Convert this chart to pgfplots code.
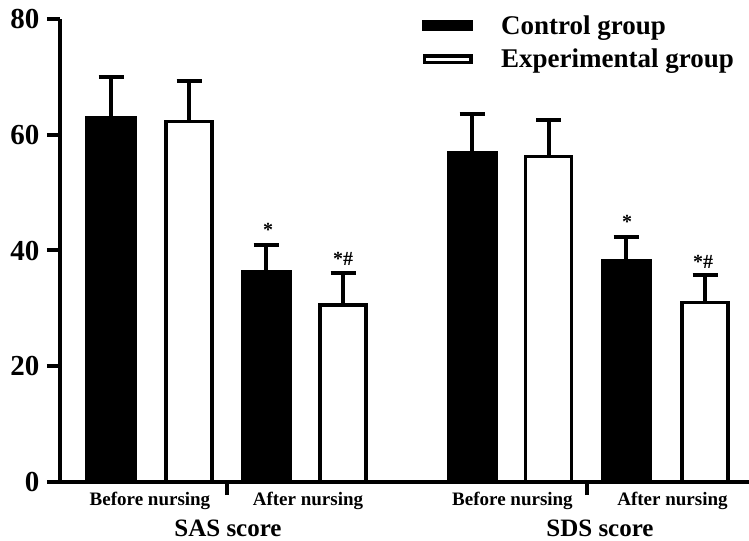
\documentclass[border=0pt]{standalone}
\usepackage{fontspec}
\setmainfont{Liberation Serif}
\usepackage{pgfplots}
\pgfplotsset{compat=1.18}
\begin{document}
\begin{tikzpicture}
\useasboundingbox (-60bp,-59bp) rectangle (689bp,482bp);
\begin{axis}[
  at={(0,0)}, anchor=south west,
  scale only axis, width=689bp, height=463bp,
  xmin=60, xmax=749, ymin=0, ymax=80,
  axis x line*=bottom, axis y line*=left,
  axis line style={line width=4bp, black},
  ytick={0,20,40,60,80},
  xtick={227,587}, xticklabels={},
  tick style={line width=4bp, black},
  major tick length=13bp,
  tick align=outside,
  yticklabel style={font=\fontsize{29bp}{30bp}\selectfont\bfseries, xshift=-4bp},
  /pgf/number format/assume math mode=true,
  clip=false,
  ybar,
  legend style={draw=none, fill=none, at={(axis cs:422,80.6)}, anchor=north west,
    font=\fontsize{27bp}{28bp}\selectfont\bfseries, inner sep=0pt,
    nodes={inner sep=0pt}, row sep=13bp,
    /tikz/every odd column/.append style={column sep=28bp}},
  legend cell align=left,
]
\addplot[ybar, bar shift=0pt, bar width=50, fill=black, draw=black, line width=1bp,
  legend image code/.code={\fill[black] (0bp,-5bp) rectangle (50bp,5bp);},
  error bars/.cd, y dir=plus, y explicit,
  error bar style={line width=4bp, black},
  error mark options={rotate=90, line width=4bp, mark size=12.5bp, black}]
  coordinates {(111,63.1) +- (0,6.9) (266,36.5) +- (0,4.5) (472,57.1) +- (0,6.5) (626,38.4) +- (0,4.0)};
\addlegendentry{Control group}
\addplot[ybar, bar shift=0pt, bar width=46, fill=white, draw=black, line width=3.5bp,
  legend image code/.code={\draw[black, line width=3.5bp, fill=white] (1.75bp,-3.25bp) rectangle (48.25bp,3.25bp);},
  error bars/.cd, y dir=plus, y explicit,
  error bar style={line width=4bp, black},
  error mark options={rotate=90, line width=4bp, mark size=12.5bp, black}]
  coordinates {(189,62.3) +- (0,7.0) (343,30.6) +- (0,5.5) (548.5,56.2) +- (0,6.3) (705,31.0) +- (0,4.8)};
\addlegendentry{Experimental group}
\node[font=\fontsize{20bp}{21bp}\selectfont\bfseries] at (axis cs:268,43.5) {*};
\node[font=\fontsize{20bp}{21bp}\selectfont\bfseries] at (axis cs:343,38.5) {*\#};
\node[font=\fontsize{20bp}{21bp}\selectfont\bfseries] at (axis cs:627,44.9) {*};
\node[font=\fontsize{20bp}{21bp}\selectfont\bfseries] at (axis cs:703,38.0) {*\#};
\node[font=\fontsize{19bp}{20bp}\selectfont\bfseries] at (axis cs:150,-3.23) {Before nursing};
\node[font=\fontsize{19bp}{20bp}\selectfont\bfseries] at (axis cs:308,-3.23) {After nursing};
\node[font=\fontsize{25bp}{26bp}\selectfont\bfseries] at (axis cs:228,-7.95) {SAS score};
\node[font=\fontsize{19bp}{20bp}\selectfont\bfseries] at (axis cs:512.5,-3.23) {Before nursing};
\node[font=\fontsize{19bp}{20bp}\selectfont\bfseries] at (axis cs:672.5,-3.23) {After nursing};
\node[font=\fontsize{25bp}{26bp}\selectfont\bfseries] at (axis cs:600,-7.95) {SDS score};
\end{axis}
\end{tikzpicture}
\end{document}
